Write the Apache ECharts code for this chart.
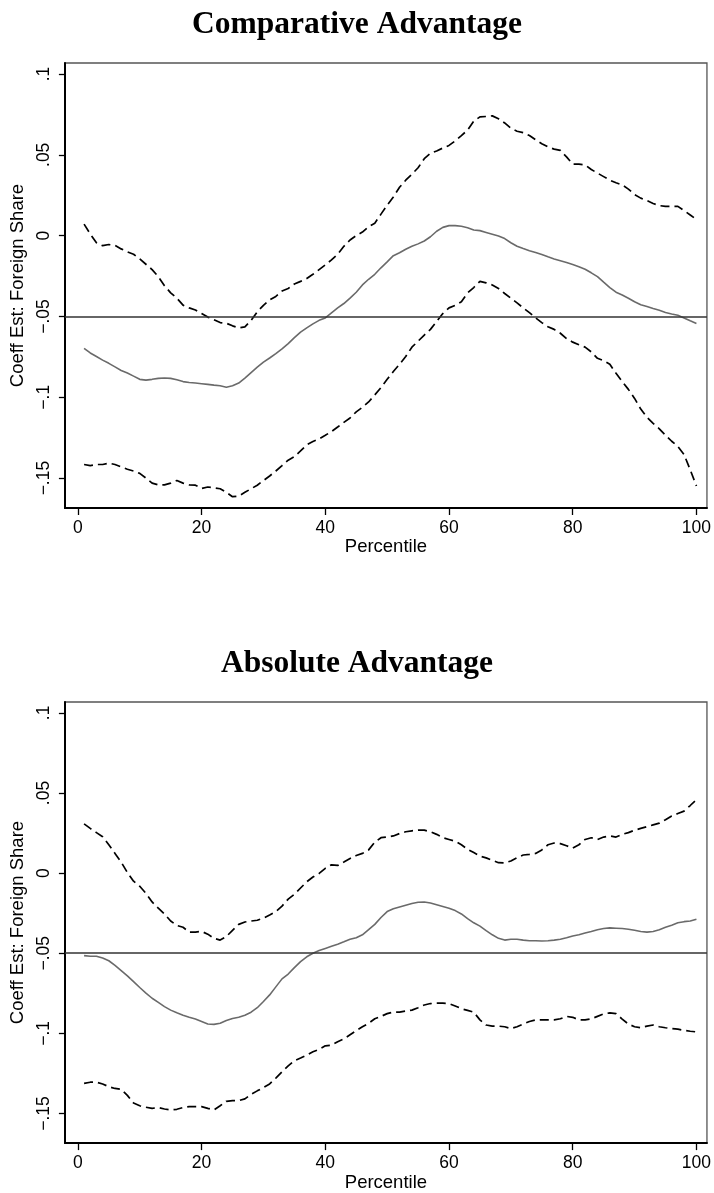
<!DOCTYPE html>
<html>
<head>
<meta charset="utf-8">
<script src="https://cdn.jsdelivr.net/npm/echarts@6/dist/echarts.min.js"></script>
<style>
html,body{margin:0;padding:0;background:#fff;}
#chart{width:714px;height:1193px;}
</style>
</head>
<body>
<div id="chart"></div>
<script>
const titles = ['Comparative Advantage', 'Absolute Advantage'];
const yAxisTitle = 'Coeff Est: Foreign Share';
const xAxisTitle = 'Percentile';
const xTickValues = [0, 20, 40, 60, 80, 100];
const yTickValues = [-0.15, -0.1, -0.05, 0, 0.05, 0.1];
const yTickLabels = ['\u2212.15', '\u2212.1', '\u2212.05', '0', '.05', '.1'];

const percentiles = [1,2,3,4,5,6,7,8,9,10,11,12,13,14,15,16,17,18,19,20,21,22,23,24,25,26,27,28,29,30,31,32,33,34,35,36,37,38,39,40,41,42,43,44,45,46,47,48,49,50,51,52,53,54,55,56,57,58,59,60,61,62,63,64,65,66,67,68,69,70,71,72,73,74,75,76,77,78,79,80,81,82,83,84,85,86,87,88,89,90,91,92,93,94,95,96,97,98,99,100];

// Comparative advantage
const caUpper = [0.0071,0.001,-0.0044,-0.0062,-0.0055,-0.006,-0.0082,-0.010,-0.0115,-0.0144,
-0.0177,-0.021,-0.0254,-0.031,-0.0354,-0.0387,-0.043,-0.0447,-0.046,-0.0482,
-0.0504,-0.052,-0.0538,-0.0542,-0.0558,-0.0571,-0.0564,-0.0524,-0.0471,-0.0431,
-0.0398,-0.0376,-0.0343,-0.0327,-0.0299,-0.0283,-0.0265,-0.0239,-0.021,-0.0181,
-0.015,-0.0115,-0.0066,-0.0027,0.0,0.0022,0.0055,0.0077,0.0133,0.0188,
0.0239,0.0299,0.0343,0.038,0.042,0.0476,0.0509,0.0524,0.0542,0.0558,
0.0586,0.0619,0.0653,0.0708,0.0735,0.0737,0.0741,0.0723,0.0697,0.0664,
0.0646,0.0637,0.0619,0.0593,0.0569,0.0549,0.0535,0.0527,0.0487,0.0442,
0.0442,0.0438,0.0409,0.0387,0.0365,0.0343,0.0327,0.0314,0.0288,0.0254,
0.0232,0.0217,0.0199,0.0186,0.0181,0.0181,0.0181,0.0155,0.0128,0.01];
const caEstimate = [-0.0697,-0.0726,-0.0748,-0.077,-0.079,-0.0812,-0.0834,-0.085,-0.0869,-0.0889,
-0.0894,-0.0889,-0.0883,-0.0881,-0.0883,-0.0892,-0.0903,-0.0909,-0.0912,-0.0916,
-0.092,-0.0925,-0.0929,-0.0938,-0.0929,-0.0912,-0.0881,-0.0847,-0.0814,-0.0783,
-0.0757,-0.073,-0.0701,-0.0668,-0.0631,-0.0597,-0.0571,-0.0546,-0.0524,-0.0509,
-0.0478,-0.0447,-0.042,-0.0387,-0.035,-0.0305,-0.027,-0.0239,-0.0199,-0.0162,
-0.0124,-0.0106,-0.0084,-0.0066,-0.0051,-0.0033,-0.0007,0.0027,0.0051,0.0062,
0.0062,0.0058,0.0049,0.0035,0.0031,0.002,0.0009,-0.0002,-0.0018,-0.0044,
-0.0066,-0.008,-0.0093,-0.0104,-0.0117,-0.0131,-0.0144,-0.0155,-0.0166,-0.0179,
-0.0192,-0.0208,-0.023,-0.0254,-0.0288,-0.0321,-0.035,-0.0367,-0.0387,-0.0409,
-0.0427,-0.0438,-0.0451,-0.0462,-0.0476,-0.0485,-0.0493,-0.0509,-0.0527,-0.0544];
const caLower = [-0.1416,-0.1423,-0.1416,-0.1416,-0.1407,-0.1416,-0.1431,-0.1445,-0.1456,-0.1471,
-0.15,-0.1531,-0.1542,-0.1542,-0.1531,-0.1515,-0.1531,-0.1542,-0.1544,-0.1564,
-0.1555,-0.156,-0.1566,-0.1588,-0.1615,-0.1611,-0.1588,-0.1566,-0.1544,-0.1515,
-0.1487,-0.1456,-0.1423,-0.1389,-0.1367,-0.1332,-0.1294,-0.1274,-0.1257,-0.1235,
-0.1212,-0.1184,-0.1155,-0.1128,-0.109,-0.1062,-0.1029,-0.0985,-0.094,-0.0889,
-0.0841,-0.0796,-0.0748,-0.069,-0.0653,-0.0615,-0.058,-0.0531,-0.0482,-0.0447,
-0.0431,-0.0409,-0.0354,-0.0321,-0.0283,-0.0292,-0.0305,-0.0327,-0.0358,-0.0387,
-0.0416,-0.0447,-0.0476,-0.0509,-0.0538,-0.0564,-0.058,-0.0604,-0.0637,-0.0659,
-0.0675,-0.069,-0.0719,-0.0759,-0.0774,-0.0796,-0.0852,-0.0903,-0.0951,-0.1007,
-0.1073,-0.1124,-0.1162,-0.1195,-0.1235,-0.1272,-0.1305,-0.1354,-0.1449,-0.1549];

// Absolute advantage
const aaUpper = [0.0307,0.0279,0.0253,0.0227,0.0177,0.0123,0.0069,0.0004,-0.005,-0.0082,
-0.0126,-0.018,-0.0219,-0.0255,-0.0299,-0.0327,-0.0338,-0.0368,-0.0368,-0.0364,
-0.0381,-0.0407,-0.0418,-0.0396,-0.0357,-0.032,-0.0305,-0.0299,-0.0294,-0.0281,
-0.0262,-0.024,-0.0206,-0.0162,-0.0132,-0.0093,-0.0054,-0.0024,-0.0002,0.003,
0.0052,0.0048,0.0069,0.0091,0.011,0.0123,0.0145,0.0193,0.0221,0.0225,
0.0232,0.0247,0.0258,0.0264,0.0268,0.0268,0.0258,0.0242,0.0221,0.021,
0.0199,0.0177,0.0149,0.0128,0.0106,0.0095,0.008,0.0065,0.0063,0.0076,
0.0097,0.0113,0.0117,0.0123,0.0145,0.0177,0.0188,0.0184,0.0171,0.0156,
0.0177,0.021,0.0221,0.021,0.0225,0.0232,0.0225,0.0242,0.0253,0.0268,
0.0279,0.029,0.0301,0.0312,0.0333,0.0357,0.0372,0.0387,0.0422,0.0459];
const aaEstimate = [-0.0515,-0.0519,-0.0519,-0.053,-0.0547,-0.0576,-0.0608,-0.0641,-0.0677,-0.0714,
-0.0749,-0.0781,-0.0807,-0.0833,-0.0855,-0.0872,-0.0887,-0.09,-0.0911,-0.0926,
-0.0942,-0.0944,-0.0937,-0.092,-0.0907,-0.09,-0.0887,-0.0868,-0.084,-0.0801,
-0.076,-0.071,-0.066,-0.063,-0.059,-0.0552,-0.0522,-0.05,-0.0483,-0.047,
-0.0457,-0.0444,-0.0429,-0.0413,-0.0403,-0.0385,-0.0353,-0.032,-0.0277,-0.024,
-0.0223,-0.0212,-0.0201,-0.019,-0.0182,-0.018,-0.0186,-0.0197,-0.0208,-0.0219,
-0.0234,-0.0255,-0.0284,-0.031,-0.0331,-0.0359,-0.0385,-0.0407,-0.0418,-0.0413,
-0.0413,-0.0418,-0.0422,-0.0422,-0.0424,-0.0422,-0.0418,-0.0413,-0.0403,-0.0392,
-0.0385,-0.0374,-0.0364,-0.0353,-0.0346,-0.0342,-0.0344,-0.0346,-0.035,-0.0357,
-0.0364,-0.0368,-0.0364,-0.0353,-0.0338,-0.0325,-0.031,-0.0303,-0.0299,-0.0288];
const aaLower = [-0.1312,-0.1305,-0.1305,-0.1316,-0.1333,-0.1344,-0.1349,-0.1387,-0.1435,-0.1452,
-0.1461,-0.1468,-0.1463,-0.1472,-0.1478,-0.1474,-0.1463,-0.1457,-0.1457,-0.1457,
-0.1468,-0.1478,-0.1452,-0.1424,-0.142,-0.142,-0.1409,-0.1381,-0.1359,-0.1338,
-0.1316,-0.1279,-0.124,-0.1203,-0.1171,-0.1154,-0.1136,-0.1115,-0.11,-0.1078,
-0.1074,-0.1052,-0.1035,-0.1009,-0.0983,-0.0959,-0.0937,-0.0909,-0.0894,-0.0877,
-0.0868,-0.0868,-0.0861,-0.0855,-0.084,-0.0823,-0.0814,-0.0812,-0.0812,-0.0814,
-0.0829,-0.0846,-0.0857,-0.0868,-0.0916,-0.0948,-0.0955,-0.0955,-0.0959,-0.097,
-0.0959,-0.0942,-0.0926,-0.0916,-0.0916,-0.0916,-0.0916,-0.0909,-0.0894,-0.09,
-0.0916,-0.0916,-0.0909,-0.0894,-0.0879,-0.0872,-0.0877,-0.0911,-0.0942,-0.0959,
-0.0965,-0.0955,-0.0948,-0.0959,-0.0965,-0.097,-0.0974,-0.0981,-0.0987,-0.0991];

const refLines = [-0.0472, -0.0472];

const panels = [
  {upper: caUpper, est: caEstimate, lower: caLower, ref: refLines[0]},
  {upper: aaUpper, est: aaEstimate, lower: aaLower, ref: refLines[1]}
];

const gridTops = [63, 702];
const gridH = 445;
const sans = 'Liberation Sans, Arial, Helvetica, sans-serif';
const serif = 'Liberation Serif, Times New Roman, serif';

function yFmt(v) {
  const i = yTickValues.findIndex(t => Math.abs(t - v) < 1e-9);
  return i >= 0 ? yTickLabels[i] : '';
}

const toPts = arr => percentiles.map((p, i) => [p, arr[i]]);

const option = {
  animation: false,
  backgroundColor: '#fff',
  title: titles.map((t, i) => ({
    text: t,
    left: 'center',
    top: gridTops[i] - 54,
    padding: 0,
    textStyle: {fontFamily: serif, fontWeight: 'bold', fontSize: 31.5, color: '#000'}
  })),
  grid: gridTops.map(top => ({
    left: 63, top: top, width: 647, height: gridH,
    show: true, borderColor: '#555', borderWidth: 1.3, containLabel: false
  })),
  xAxis: gridTops.map((_, i) => ({
    type: 'value', gridIndex: i, min: -2.1, max: 101.7,
    name: xAxisTitle, nameLocation: 'middle', nameGap: 29,
    nameTextStyle: {fontFamily: sans, fontSize: 18.5, color: '#000'},
    axisLine: {show: true, onZero: false, lineStyle: {color: '#000', width: 2}},
    axisTick: {show: true, length: 7, customValues: xTickValues, lineStyle: {color: '#000', width: 1.3}},
    axisLabel: {show: true, customValues: xTickValues, margin: 11, fontFamily: sans, fontSize: 17.5, color: '#000'},
    splitLine: {show: false}
  })),
  yAxis: gridTops.map((_, i) => ({
    type: 'value', gridIndex: i, min: -0.1685, max: 0.1068,
    name: yAxisTitle, nameLocation: 'middle', nameGap: 35, nameRotate: 90,
    nameTextStyle: {fontFamily: sans, fontSize: 18.5, color: '#000'},
    axisLine: {show: true, onZero: false, lineStyle: {color: '#000', width: 2}},
    axisTick: {show: true, length: 6, customValues: yTickValues, lineStyle: {color: '#000', width: 1.3}},
    axisLabel: {show: true, customValues: yTickValues, rotate: 90, margin: 12, formatter: yFmt,
      fontFamily: sans, fontSize: 17.5, color: '#000'},
    splitLine: {show: false}
  })),
  series: []
};

panels.forEach((p, i) => {
  option.series.push({
    type: 'line', xAxisIndex: i, yAxisIndex: i, data: toPts(p.upper),
    showSymbol: false, symbol: 'none', silent: true,
    lineStyle: {color: '#000', width: 1.7, type: [9, 5]}
  });
  option.series.push({
    type: 'line', xAxisIndex: i, yAxisIndex: i, data: toPts(p.est),
    showSymbol: false, symbol: 'none', silent: true,
    lineStyle: {color: '#6a6a6a', width: 1.6, type: 'solid'},
    markLine: {
      silent: true, symbol: 'none', label: {show: false},
      lineStyle: {color: '#333', width: 1.6, type: 'solid'},
      data: [{yAxis: p.ref}]
    }
  });
  option.series.push({
    type: 'line', xAxisIndex: i, yAxisIndex: i, data: toPts(p.lower),
    showSymbol: false, symbol: 'none', silent: true,
    lineStyle: {color: '#000', width: 1.7, type: [9, 5]}
  });
});

const chart = echarts.init(document.getElementById('chart'), null, {renderer: 'canvas'});
chart.setOption(option);
</script>
</body>
</html>
